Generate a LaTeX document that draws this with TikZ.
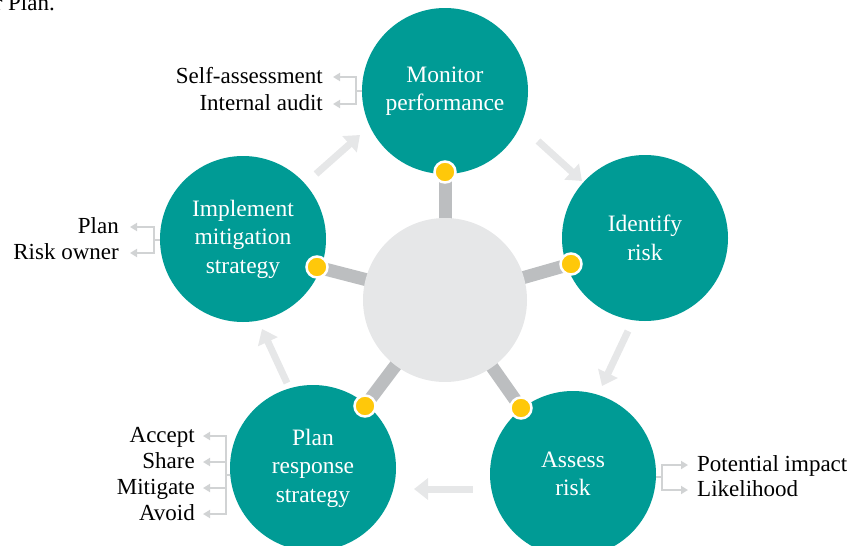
\documentclass[tikz,border=0pt]{standalone}
\usepackage{fontspec}
\setmainfont{Liberation Serif}
\usetikzlibrary{arrows.meta}
\definecolor{stageteal}{RGB}{0,155,149}
\definecolor{hubgray}{RGB}{230,231,232}
\definecolor{spokegray}{RGB}{188,190,192}
\definecolor{flowgray}{RGB}{230,231,232}
\definecolor{brkgray}{RGB}{209,211,212}
\definecolor{pinyellow}{RGB}{255,200,10}
\pgfdeclarelayer{bg}
\pgfsetlayers{bg,main}
\begin{document}
\begin{tikzpicture}[x=1pt,y=-1pt,
  stage/.style={circle,fill=stageteal,text=white,minimum size=166pt,inner sep=0pt,
    align=center,font=\fontsize{23.5}{28.5}\selectfont},
  hub/.style={circle,fill=hubgray,minimum size=164pt,inner sep=0pt},
  pin/.style={circle,fill=pinyellow,draw=white,line width=2.5pt,minimum size=21pt,inner sep=0pt},
  spoke/.style={draw=spokegray,line width=13pt},
  flow/.style={draw=flowgray,line width=7pt,-{Triangle[length=14pt,width=21pt]}},
  brk/.style={draw=brkgray,line width=2pt},
  brkarrow/.style={brk,-{Triangle[length=7pt,width=8pt]}},
  lbl/.style={font=\fontsize{23}{28}\selectfont,inner sep=0pt,text height=16pt,text depth=4pt}
]
\useasboundingbox (0,0) rectangle (854,546);
\clip (0,0) rectangle (854,546);

% running text above the figure
\node[anchor=base east,font=\fontsize{23}{28}\selectfont,inner sep=0pt] (cap) at (55,10) {r Plan.};

% hub and the five stages of the cycle
\node[hub] (hub) at (445,300) {};
\node[stage] (mon) at (445,91) {Monitor\\performance};
\node[stage] (idr) at (645,238) {Identify\\risk};
\node[stage] (asr) at (573,474) {Assess\\risk};
\node[stage] (prs) at (313,468) {Plan\\response\\strategy};
\node[stage] (ims) at (243,239) {Implement\\mitigation\\strategy};

% pins where the spokes meet each stage
\node[pin] (pm) at (445,172) {};
\node[pin] (pi) at (571,264) {};
\node[pin] (pa) at (521,408) {};
\node[pin] (pp) at (365,406) {};
\node[pin] (pim) at (317,267) {};

\begin{pgfonlayer}{bg}
  \foreach \p in {pm,pi,pa,pp,pim} \draw[spoke] (hub.center) -- (\p.center);
\end{pgfonlayer}

% flow arrows between the stages
\coordinate (f1a) at (316,174); \coordinate (f1b) at (360,135);
\coordinate (f2a) at (538,141); \coordinate (f2b) at (582,181);
\coordinate (f3a) at (628,331); \coordinate (f3b) at (602,386);
\coordinate (f4a) at (473,489); \coordinate (f4b) at (414,489);
\coordinate (f5a) at (287,383); \coordinate (f5b) at (262,329);
\draw[flow] (f1a) -- (f1b);
\draw[flow] (f2a) -- (f2b);
\draw[flow] (f3a) -- (f3b);
\draw[flow] (f4a) -- (f4b);
\draw[flow] (f5a) -- (f5b);

% detail labels with their brackets
\node[lbl,anchor=east] (sa) at (323,77) {Self-assessment};
\node[lbl,anchor=east] (ia) at (323,104) {Internal audit};
\coordinate (jm) at (356,90.5);
\draw[brk] (mon.west |- jm) -- (jm);
\draw[brkarrow,shorten >=10pt] (jm) |- (sa.east);
\draw[brkarrow,shorten >=10pt] (jm) |- (ia.east);

\node[lbl,anchor=east] (pl) at (119,227) {Plan};
\node[lbl,anchor=east] (ro) at (119,253) {Risk owner};
\coordinate (ji) at (154,240);
\draw[brk] (ims.west |- ji) -- (ji);
\draw[brkarrow,shorten >=11pt] (ji) |- (pl.east);
\draw[brkarrow,shorten >=11pt] (ji) |- (ro.east);

\node[lbl,anchor=east] (ac) at (195,436) {Accept};
\node[lbl,anchor=east] (sh) at (195,462) {Share};
\node[lbl,anchor=east] (mi) at (195,488) {Mitigate};
\node[lbl,anchor=east] (av) at (195,514) {Avoid};
\coordinate (jp) at (226,475);
\draw[brk] (prs.west |- jp) -- (jp);
\foreach \l in {ac,sh,mi,av} \draw[brkarrow,shorten >=8pt] (jp) |- (\l.east);

\node[lbl,anchor=west] (pi2) at (697,465) {Potential impact};
\node[lbl,anchor=west] (lh) at (697,490) {Likelihood};
\coordinate (ja) at (662,477);
\draw[brk] (asr.east |- ja) -- (ja);
\draw[brkarrow,shorten >=9pt] (ja) |- (pi2.west);
\draw[brkarrow,shorten >=9pt] (ja) |- (lh.west);
\end{tikzpicture}
\end{document}
